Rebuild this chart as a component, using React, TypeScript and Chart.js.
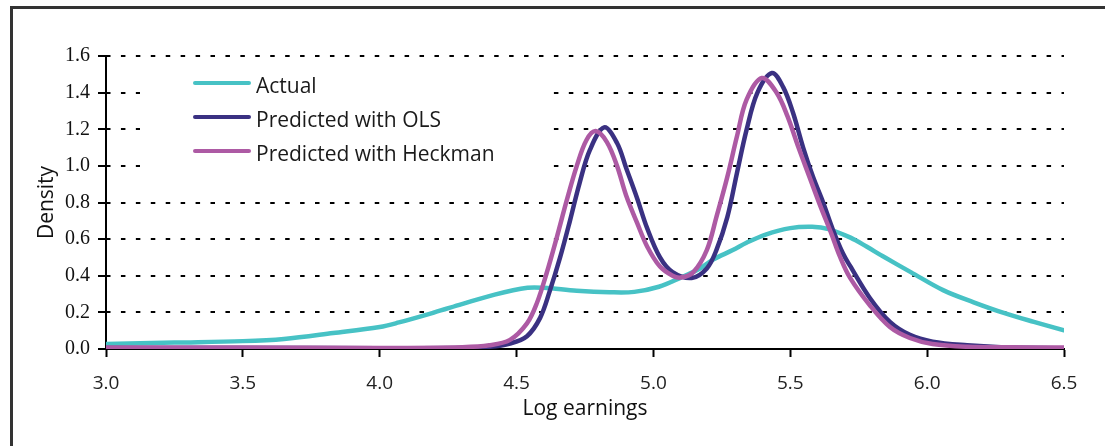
import React, { useEffect, useRef } from "react";
import { Chart, registerables } from "chart.js";

Chart.register(...registerables);

// ---- Data ----
const xTicks = [3.0, 3.5, 4.0, 4.5, 5.0, 5.5, 6.0, 6.5];
const yTicks = [0.0, 0.2, 0.4, 0.6, 0.8, 1.0, 1.2, 1.4, 1.6];

const seriesLabels = ["Actual", "Predicted with OLS", "Predicted with Heckman"];
const seriesColors = ["#47C2C5", "#3A3182", "#AD5AA4"];

const actualX = [3.0, 3.25, 3.5, 3.65, 3.83, 4.0, 4.07, 4.2, 4.3, 4.42, 4.54, 4.6, 4.72, 4.84, 4.93, 5.02, 5.1, 5.17, 5.22, 5.29, 5.34, 5.41, 5.5, 5.58, 5.64, 5.72, 5.78, 5.84, 5.94, 6.06, 6.17, 6.28, 6.39, 6.5];
const actualY = [0.027, 0.035, 0.043, 0.055, 0.087, 0.12, 0.145, 0.2, 0.245, 0.297, 0.334, 0.334, 0.318, 0.31, 0.312, 0.34, 0.39, 0.44, 0.49, 0.54, 0.58, 0.625, 0.66, 0.667, 0.655, 0.608, 0.558, 0.505, 0.42, 0.32, 0.255, 0.197, 0.148, 0.102];

const olsX = [3.0, 3.5, 4.0, 4.3, 4.4, 4.476, 4.538, 4.586, 4.622, 4.659, 4.695, 4.73, 4.768, 4.82, 4.867, 4.9, 4.94, 4.977, 5.024, 5.07, 5.14, 5.195, 5.23, 5.27, 5.305, 5.34, 5.38, 5.433, 5.474, 5.51, 5.547, 5.583, 5.62, 5.656, 5.693, 5.718, 5.79, 5.864, 5.937, 6.02, 6.146, 6.27, 6.5];
const olsY = [0.006, 0.006, 0.004, 0.006, 0.012, 0.03, 0.07, 0.17, 0.32, 0.5, 0.7, 0.905, 1.087, 1.21, 1.125, 0.99, 0.825, 0.66, 0.5, 0.42, 0.388, 0.44, 0.54, 0.72, 0.96, 1.195, 1.4, 1.507, 1.43, 1.29, 1.1, 0.94, 0.8, 0.65, 0.52, 0.455, 0.28, 0.148, 0.077, 0.04, 0.02, 0.01, 0.004];

const heckX = [3.0, 3.5, 4.0, 4.3, 4.4, 4.476, 4.538, 4.574, 4.61, 4.647, 4.683, 4.72, 4.755, 4.789, 4.83, 4.867, 4.9, 4.94, 4.977, 5.024, 5.07, 5.1, 5.146, 5.195, 5.23, 5.27, 5.305, 5.34, 5.396, 5.45, 5.49, 5.53, 5.57, 5.61, 5.65, 5.68, 5.718, 5.79, 5.864, 5.937, 6.02, 6.146, 6.3, 6.5];
const heckY = [0.008, 0.008, 0.006, 0.01, 0.02, 0.05, 0.14, 0.25, 0.415, 0.61, 0.81, 1.0, 1.14, 1.19, 1.13, 1.0, 0.84, 0.69, 0.56, 0.45, 0.4, 0.39, 0.42, 0.54, 0.72, 0.94, 1.16, 1.36, 1.48, 1.4, 1.27, 1.1, 0.94, 0.78, 0.63, 0.51, 0.39, 0.24, 0.12, 0.06, 0.027, 0.012, 0.009, 0.008];

const toPoints = (xs: number[], ys: number[]) => xs.map((x, i) => ({ x, y: ys[i] }));

const SANS = '"Open Sans", "Noto Sans", sans-serif';
const SERIF = '"Liberation Serif", "Times New Roman", serif';

const legendPlugin = {
  id: "boxLegend",
  beforeDatasetsDraw(chart: any) {
    const { ctx, chartArea } = chart;
    const left = chartArea.left;
    const top = chartArea.top;
    ctx.save();
    // white legend background hides the gridlines behind it
    ctx.fillStyle = "#ffffff";
    ctx.fillRect(left + 34, top + 10, 412, 120);
    // y tick marks crossing slightly into the plot
    const yScale = chart.scales.y;
    ctx.strokeStyle = "#000";
    ctx.lineWidth = 2;
    yTicks.forEach((v) => {
      const py = Math.round(yScale.getPixelForValue(v));
      ctx.beginPath();
      ctx.moveTo(left, py);
      ctx.lineTo(left + 4, py);
      ctx.stroke();
    });
    chart.data.datasets.forEach((ds: any, i: number) => {
      const y = top + 27 + i * 34;
      ctx.strokeStyle = ds.borderColor;
      ctx.lineWidth = 4;
      ctx.lineCap = "round";
      ctx.beginPath();
      ctx.moveTo(left + 89, y);
      ctx.lineTo(left + 143, y);
      ctx.stroke();
      ctx.fillStyle = "#1a1a1a";
      ctx.font = `21px ${SANS}`;
      ctx.textBaseline = "alphabetic";
      ctx.textAlign = "left";
      ctx.fillText(ds.label, left + 150, y + 10);
    });
    ctx.restore();
  },
};

export default function App() {
  const canvasRef = useRef<HTMLCanvasElement | null>(null);

  useEffect(() => {
    if (!canvasRef.current) return;
    const chart = new Chart(canvasRef.current, {
      type: "line",
      data: {
        datasets: [
          { label: seriesLabels[0], data: toPoints(actualX, actualY), borderColor: seriesColors[0], order: 2 },
          { label: seriesLabels[1], data: toPoints(olsX, olsY), borderColor: seriesColors[1], order: 1 },
          { label: seriesLabels[2], data: toPoints(heckX, heckY), borderColor: seriesColors[2], order: 0 },
        ].map((d) => ({
          ...d,
          borderWidth: 4.5,
          pointRadius: 0,
          fill: false,
          tension: 0.35,
          borderCapStyle: "round" as const,
          borderJoinStyle: "round" as const,
        })),
      },
      options: {
        responsive: false,
        animation: false,
        devicePixelRatio: 1,
        layout: { padding: { left: 0, top: 56, right: 41, bottom: 0 } },
        plugins: { legend: { display: false }, tooltip: { enabled: false } },
        scales: {
          x: {
            type: "linear",
            min: 3,
            max: 6.5,
            afterBuildTicks: (scale: any) => {
              scale.ticks = xTicks.map((v) => ({ value: v }));
            },
            afterFit: (scale: any) => {
              scale.height = 97;
            },
            ticks: {
              callback: (v: any) => Number(v).toFixed(1),
              font: { family: SANS, size: 19 },
              color: "#222",
              padding: 15,
              maxRotation: 0,
              autoSkip: false,
            },
            grid: {
              drawOnChartArea: false,
              drawTicks: true,
              tickLength: 8,
              tickColor: "#000",
              tickWidth: 2,
            },
            border: { color: "#000", width: 2 },
            title: {
              display: true,
              text: "Log earnings",
              font: { family: SANS, size: 21 },
              color: "#111",
              padding: { top: 0, bottom: 24 },
            },
          },
          y: {
            min: 0,
            max: 1.6,
            afterBuildTicks: (scale: any) => {
              scale.ticks = yTicks.map((v) => ({ value: v }));
            },
            afterFit: (scale: any) => {
              scale.width = 106;
            },
            ticks: {
              callback: (v: any) => Number(v).toFixed(1),
              font: { family: SERIF, size: 20 },
              color: "#111",
              padding: 8,
              autoSkip: false,
            },
            grid: {
              color: "#000",
              lineWidth: 2,
              drawTicks: true,
              tickLength: 8,
              tickColor: "#000",
              tickWidth: 2,
            },
            border: { color: "#000", width: 2, dash: [4.5, 10.43], dashOffset: 1 },
            title: {
              display: true,
              text: "Density",
              font: { family: SANS, size: 21 },
              color: "#111",
              padding: { top: 34, bottom: 0 },
            },
          },
        },
      },
      plugins: [legendPlugin],
    });
    return () => chart.destroy();
  }, []);

  return (
    <div style={{ position: "fixed", left: 0, top: 0, width: 1105, height: 446, background: "#fff", overflow: "hidden" }}>
      <div
        style={{
          position: "absolute",
          left: 10,
          top: 6,
          width: 1200,
          height: 600,
          border: "3px solid #333",
          boxSizing: "border-box",
        }}
      />
      <canvas
        ref={canvasRef}
        width={1105}
        height={446}
        style={{ position: "absolute", left: 0, top: 0, width: 1105, height: 446 }}
      />
    </div>
  );
}
